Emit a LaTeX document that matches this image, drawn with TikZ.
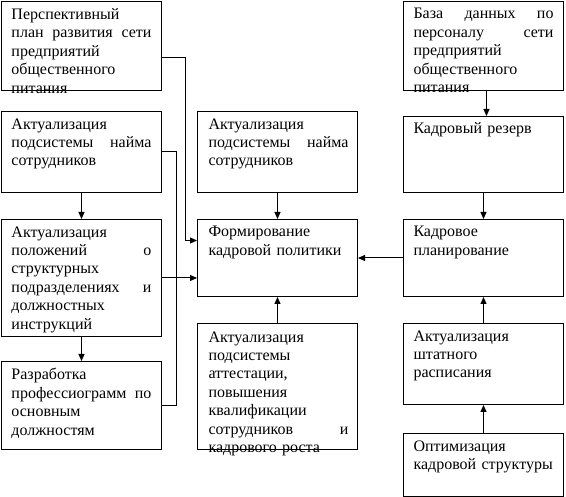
\documentclass[tikz,border=0pt]{standalone}
\usepackage{fontspec}
\setmainfont{Liberation Serif}
\usetikzlibrary{arrows.meta}
\newcommand{\jl}[1]{\makebox[140pt][s]{\spaceskip=0pt\xspaceskip=0pt #1}}

\begin{document}
\begin{tikzpicture}[x=1pt,y=-1pt,line width=1pt]
\tikzstyle{box}=[draw,minimum width=160pt,anchor=north west,inner sep=0pt];
\tikzstyle{txt}=[anchor=north west,text width=150pt,inner sep=0pt,align=left,font=\fontsize{16}{18.4}\selectfont];
\tikzstyle{arr}=[-{Triangle[length=7pt,width=6pt]}];
\useasboundingbox (0,0) rectangle (566,497);

\node[box,minimum height=89pt](A) at(1,1){};
\node[box,minimum height=81pt](B) at(1,111){};
\node[box,minimum height=117pt](C) at(1,219){};
\node[box,minimum height=88pt](D) at(1,361){};

\node[box,minimum height=81pt](E) at(197,111){};
\node[box,minimum height=77pt](F) at(197,219){};
\node[box,minimum height=126pt](G) at(197,323){};

\node[box,minimum height=89pt](H) at(403,1){};
\node[box,minimum height=76pt](I) at(403,116){};
\node[box,minimum height=77pt](J) at(403,219){};
\node[box,minimum height=81pt](K) at(403,323){};
\node[box,minimum height=63.5pt](L) at(403,433){};

\node[txt](tA) at([xshift=10pt,yshift=-7pt]A.north west){Перспективный\\\jl{план развития сети}\\предприятий\\общественного\\питания};
\node[txt](tB) at([xshift=10pt,yshift=-7pt]B.north west){Актуализация\\\jl{подсистемы найма}\\сотрудников};
\node[txt](tC) at([xshift=10pt,yshift=-7pt]C.north west){Актуализация\\\jl{положений о}\\структурных\\\jl{подразделениях и}\\должностных\\инструкций};
\node[txt](tD) at([xshift=10pt,yshift=-7pt]D.north west){Разработка\\\jl{профессиограмм по}\\основным\\должностям};

\node[txt](tE) at([xshift=11pt,yshift=-7pt]E.north west){Актуализация\\\jl{подсистемы найма}\\сотрудников};
\node[txt](tF) at([xshift=11pt,yshift=-7pt]F.north west){Формирование\\кадровой политики};
\node[txt](tG) at([xshift=11pt,yshift=-8pt]G.north west){Актуализация\\подсистемы\\аттестации,\\повышения\\квалификации\\\jl{сотрудников и}\\кадрового роста};

\node[txt](tH) at([xshift=10pt,yshift=-7pt]H.north west){\jl{База данных по}\\\jl{персоналу сети}\\предприятий\\общественного\\питания};
\node[txt](tI) at([xshift=10pt,yshift=-6pt]I.north west){Кадровый резерв};
\node[txt](tJ) at([xshift=10pt,yshift=-7pt]J.north west){Кадровое\\планирование};
\node[txt](tK) at([xshift=10pt,yshift=-7pt]K.north west){Актуализация\\штатного\\расписания};
\node[txt](tL) at([xshift=10pt,yshift=-7pt]L.north west){Оптимизация\\кадровой структуры};

\draw[arr] ([yshift=-11.5pt]A.east) -- ++(23,0) |- ([yshift=17.5pt]F.west);
\draw (B.east) -- ++(14,0) |- (D.east);
\draw[arr] (C.east) -- (C.east -| F.west);
\draw[arr] (B.south) -- (C.north);
\draw[arr] (C.south) -- (D.north);
\draw[arr] (E.south) -- (F.north);
\draw[arr] (G.north) -- (F.south);
\draw[arr] (J.west) -- (F.east);
\draw[arr] ([xshift=3pt]H.south) -- ([xshift=3pt]I.north);
\draw[arr] (I.south) -- (J.north);
\draw[arr] (K.north) -- (J.south);
\draw[arr] (L.north) -- (K.south);

\end{tikzpicture}
\end{document}
